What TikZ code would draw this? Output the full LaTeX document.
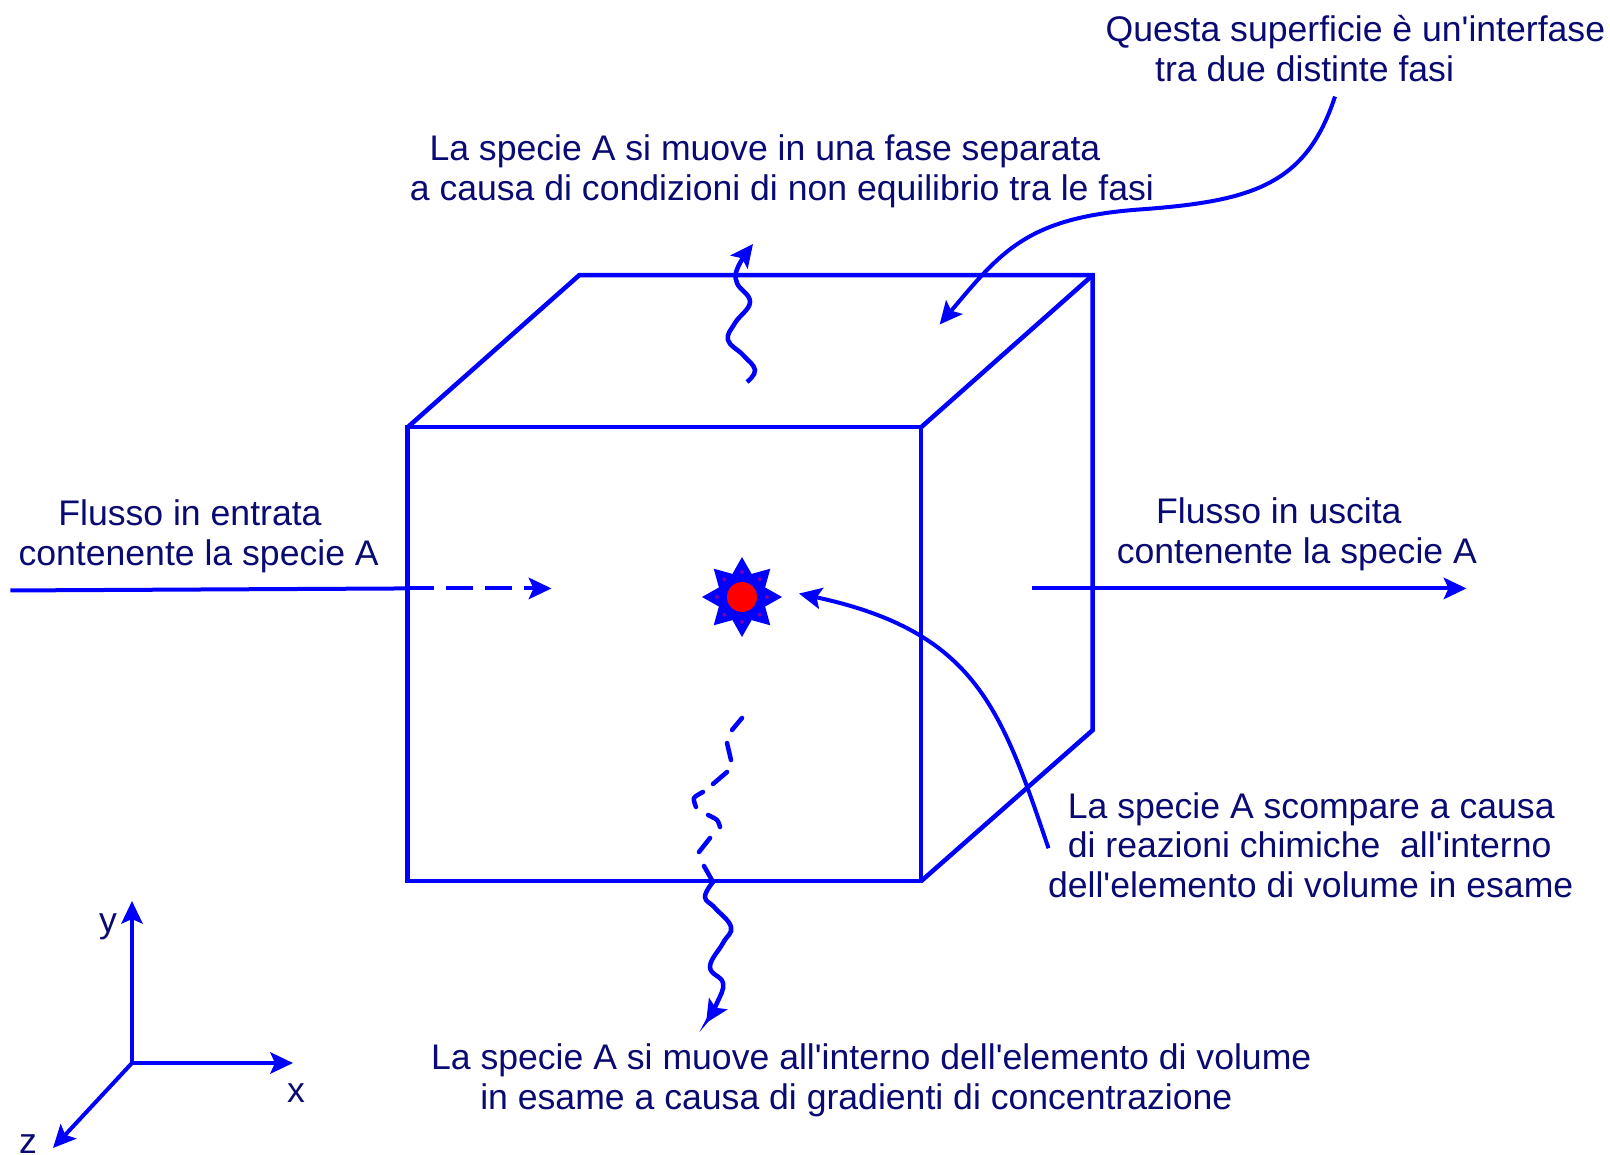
\documentclass[tikz,border=0pt]{standalone}
\usepackage{fontspec}
\setmainfont{Liberation Sans}[Ligatures=TeXOff]
\usetikzlibrary{arrows.meta,shapes.geometric}
\definecolor{lineblue}{RGB}{0,0,255}
\definecolor{labelnavy}{RGB}{10,10,115}
\definecolor{starred}{RGB}{255,0,0}
\definecolor{dotpurple}{RGB}{120,0,170}
\tikzset{
  lab/.style={anchor=base,inner sep=0pt,outer sep=0pt,text=labelnavy,font=\fontsize{26.7pt}{30pt}\selectfont},
  boxedge/.style={draw=lineblue,line width=3.4pt,line join=miter},
  conn/.style={draw=lineblue,line width=3pt},
  tipped/.style={conn,-{Stealth[length=17pt,width=16pt,inset=3.5pt]}},
  dashseg/.style={draw=lineblue,line width=3.4pt,line cap=round},
  wavetip/.style={draw=lineblue,line width=3.4pt,-{Stealth[length=17pt,width=16pt,inset=3.5pt]}},
  burst/.style={star,star points=8,star point ratio=1.6,fill=lineblue,draw=none,inner sep=0pt,outer sep=0pt,minimum size=60pt},
  core/.style={circle,fill=starred,draw=none,inner sep=0pt,outer sep=0pt,minimum size=22.5pt},
  speck/.style={circle,fill=dotpurple,draw=none,inner sep=0pt,minimum size=3pt}
}
\begin{document}
\begin{tikzpicture}[x=0.75pt,y=-0.75pt]
\useasboundingbox (0,0) rectangle (1610,1155);
\begin{scope}[scale=1.02679]
\coordinate (fa) at (397,416);
\coordinate (fb) at (897,416);
\coordinate (fc) at (897,858);
\coordinate (fd) at (397,858);
\coordinate (ba) at (564,268);
\coordinate (bb) at (1064,268);
\coordinate (bc) at (1064,711);
\draw[boxedge] (fa) -- (fb) -- (fc) -- (fd) -- cycle;
\draw[boxedge] (fa) -- (ba) -- (bb) -- (bc) -- (fc);
\draw[boxedge] (fb) -- (bb);

\node[lab] (t1a) at (1320,40) {Questa superficie è un'interfase};
\node[lab] (t1b) at (1270.5,79) {tra due distinte fasi};
\node[lab] (t2a) at (745,156) {La specie A si muove in una fase separata};
\node[lab] (t2b) at (761.5,195) {a causa di condizioni di non equilibrio tra le fasi};
\node[lab] (t3a) at (185,511.5) {Flusso in entrata};
\node[lab] (t3b) at (193.5,551) {contenente la specie A};
\node[lab] (t4a) at (1245.5,509.5) {Flusso in uscita};
\node[lab] (t4b) at (1263,549) {contenente la specie A};
\node[lab] (t5a) at (1277,797) {La specie A scompare a causa};
\node[lab] (t5b) at (1275.5,835) {di reazioni chimiche\ \ all'interno};
\node[lab] (t5c) at (1276.5,874) {dell'elemento di volume in esame};
\node[lab] (t6a) at (848.5,1042) {La specie A si muove all'interno dell'elemento di volume};
\node[lab] (t6b) at (834,1081) {in esame a causa di gradienti di concentrazione};

\coordinate (inL) at (10,575);
\coordinate (inM) at (397,573);
\coordinate (inR) at (537,573);
\coordinate (outL) at (1005,573);
\coordinate (outR) at (1428,573);
\draw[conn] (inL) -- (inM);
\draw[tipped,dash pattern=on 20pt off 9pt] (inM) -- (inR);
\draw[tipped] (outL) -- (outR);

\coordinate (ifA) at (1300,94);
\coordinate (ifB) at (915,316);
\draw[tipped] (ifA) .. controls (1272,180) and (1220,196) .. (1110,204)
   .. controls (1000,212) and (975,245) .. (ifB);

\coordinate (rxA) at (1021,826);
\coordinate (rxB) at (778,578);
\draw[tipped] (rxA) .. controls (975,690) and (950,615) .. (rxB);
\end{scope}

% reaction centre
\node[burst] (sun) at (742,597) {};
\foreach \a in {0,45,...,315}
  \node[speck] at ([shift={(\a:25)}]742,597) {};
\node[core] (sunc) at (742,597) {};

% upper wavy arrow
\draw[wavetip] plot[smooth,tension=0.7] coordinates {(747,382) (755,370) (743,355) (728,340) (735,323) (750,302) (737,283) (738,267) (753,244)};

% lower wavy arrow
\draw[wavetip] plot[smooth,tension=0.7] coordinates {(713,882) (705,897) (715,908) (731,927) (723,943) (710,967) (723,983) (717,1003) (706,1023)};

% lower wavy arrow, dashed part
\draw[dashseg] (742,718) -- (732,730);
\draw[dashseg] (727,743) -- (731,760);
\draw[dashseg] (727,772) -- (713,784);
\draw[dashseg] plot[smooth] coordinates {(703,792) (694,798) (696,807)};
\draw[dashseg] plot[smooth] coordinates {(708,815) (717,820) (720,827)};
\draw[dashseg] (710,838) -- (699,852);
\draw[dashseg] (704,866) -- (713,882);

% axes
\coordinate (orig) at (132,1063);
\coordinate (ytip) at (132,901);
\coordinate (xtip) at (293,1063);
\coordinate (ztip) at (53,1148);
\draw[tipped] (orig) -- (ytip);
\draw[tipped] (orig) -- (xtip);
\draw[tipped] (orig) -- (ztip);
\node[lab] (ylab) at (108,932) {y};
\node[lab] (xlab) at (296,1102) {x};
\node[lab] (zlab) at (28,1153) {z};
\end{tikzpicture}
\end{document}
